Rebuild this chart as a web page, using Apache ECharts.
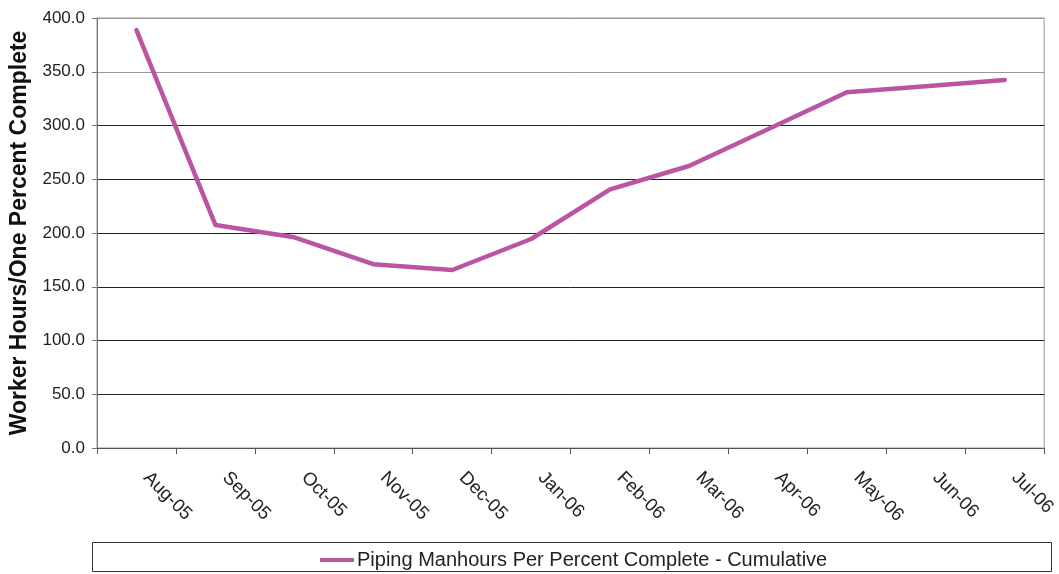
<!DOCTYPE html>
<html>
<head>
<meta charset="utf-8">
<script src="https://cdn.jsdelivr.net/npm/echarts@6/dist/echarts.min.js"></script>
<style>
  html, body { margin: 0; padding: 0; background: #fff; }
  #chart { width: 1059px; height: 574px; }
</style>
</head>
<body>
<div id="chart"></div>
<script>
// Monthly categories along the x axis
const months = ['Aug-05', 'Sep-05', 'Oct-05', 'Nov-05', 'Dec-05', 'Jan-06',
                'Feb-06', 'Mar-06', 'Apr-06', 'May-06', 'Jun-06', 'Jul-06'];

// Cumulative piping manhours per percent complete
const manhoursPerPercent = [388.8, 207.5, 196.0, 171.0, 165.6, 194.4,
                            240.5, 262.3, 296.5, 330.9, 336.5, 342.3];

const seriesName = 'Piping Manhours Per Percent Complete - Cumulative';
const yAxisTitle = 'Worker Hours/One Percent Complete';

const FONT = '"Liberation Sans", Arial, sans-serif';
const LINE_COLOR = '#ba55a3';

const chart = echarts.init(document.getElementById('chart'), null, { renderer: 'canvas' });

chart.setOption({
  animation: false,
  backgroundColor: '#ffffff',
  grid: {
    left: 97, right: 13, top: 18, bottom: 126,
    show: true, borderColor: '#999', borderWidth: 1
  },
  xAxis: {
    type: 'category',
    data: months,
    boundaryGap: true,
    axisLine: { lineStyle: { color: '#555', width: 1 } },
    axisTick: { show: true, length: 6, interval: 0, lineStyle: { color: '#555' } },
    axisLabel: {
      interval: 0, rotate: -45, margin: 17,
      padding: [0, 0, 0, 14],
      color: '#222', fontFamily: FONT, fontSize: 18.5
    },
    splitLine: { show: false }
  },
  yAxis: {
    type: 'value',
    min: 0, max: 400, interval: 50,
    name: yAxisTitle,
    nameLocation: 'middle',
    nameGap: 61,
    nameRotate: 90,
    nameTextStyle: { fontFamily: FONT, fontSize: 23, fontWeight: 'bold', color: '#111' },
    axisLine: { show: true, lineStyle: { color: '#777', width: 1 } },
    axisTick: { show: true, length: 5, lineStyle: { color: '#777' } },
    axisLabel: {
      margin: 12, color: '#222', fontFamily: FONT, fontSize: 17,
      formatter: v => v.toFixed(1)
    },
    splitLine: {
      show: true,
      lineStyle: { color: ['#222', '#222', '#222', '#222', '#222', '#222', '#222', '#999', '#999'], width: 1 }
    }
  },
  legend: {
    data: [seriesName],
    left: 315, top: 545,
    icon: 'roundRect',
    itemWidth: 34, itemHeight: 4, itemGap: 4,
    textStyle: { fontFamily: FONT, fontSize: 20, color: '#222', padding: [0, 0, 0, -2] }
  },
  graphic: [{
    // frame around the legend
    type: 'rect',
    shape: { x: 92.5, y: 542.5, width: 959, height: 29 },
    style: { fill: 'none', stroke: '#333', lineWidth: 1 },
    z: -1
  }],
  series: [{
    name: seriesName,
    type: 'line',
    data: manhoursPerPercent,
    showSymbol: false,
    symbol: 'none',
    lineStyle: { color: LINE_COLOR, width: 4.5, join: 'round', cap: 'round' },
    itemStyle: { color: LINE_COLOR }
  }]
});
</script>
</body>
</html>
